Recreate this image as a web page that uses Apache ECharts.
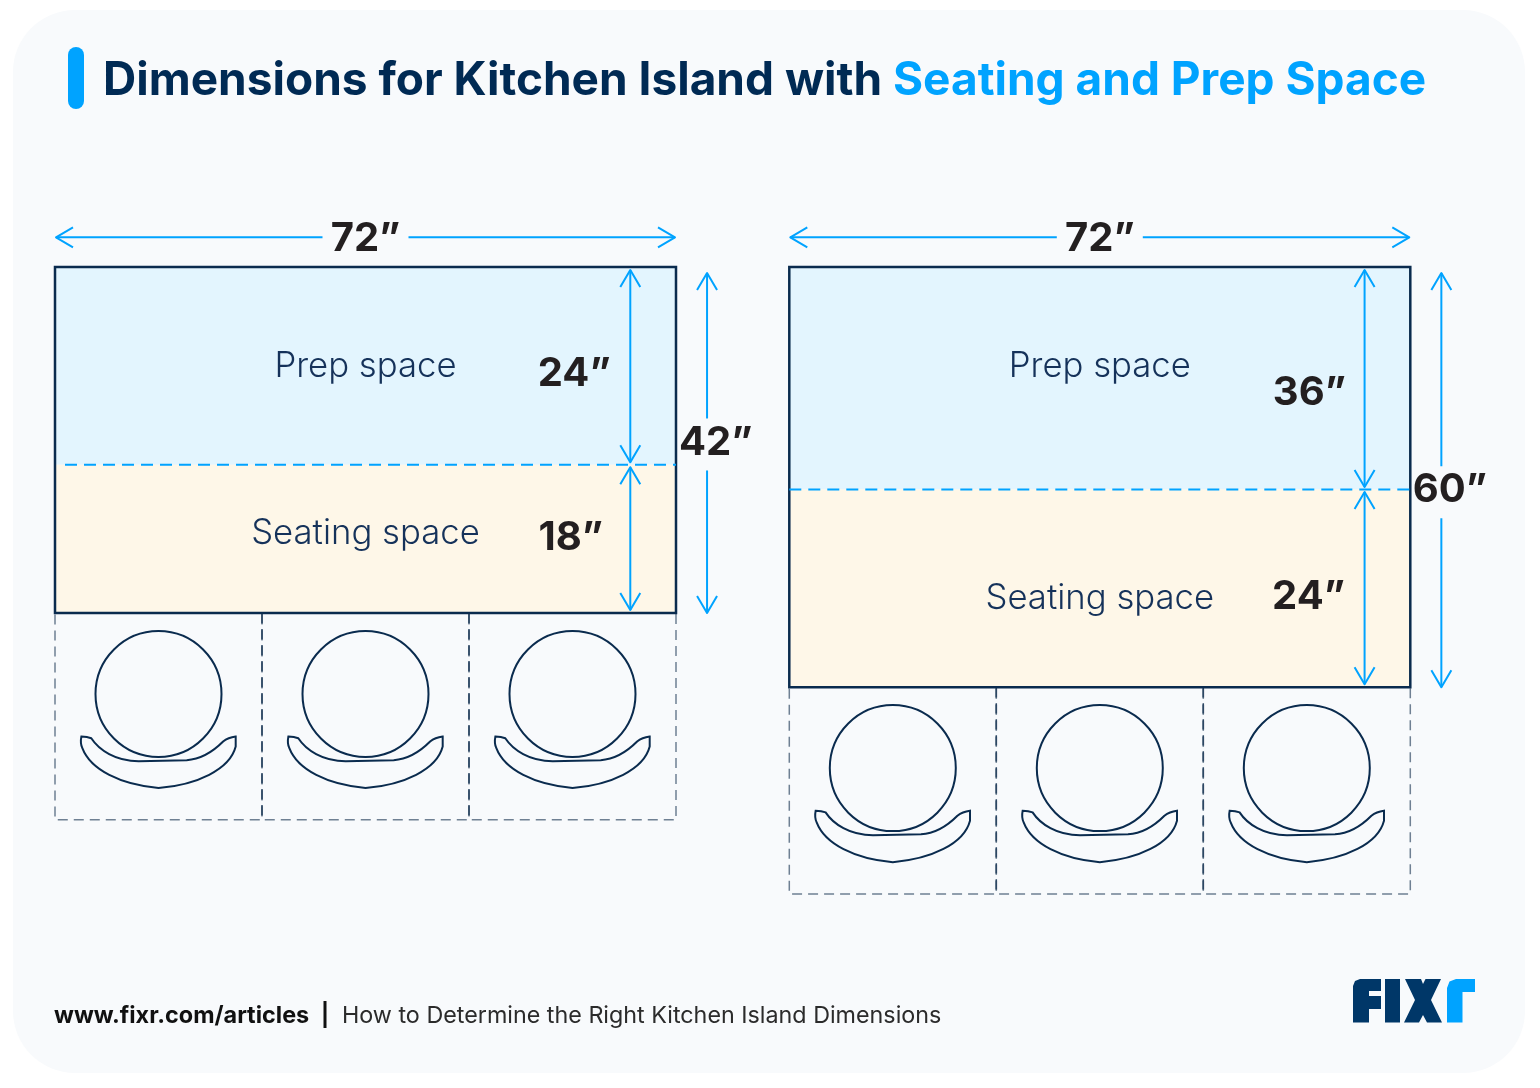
<!DOCTYPE html>
<html>
<head>
<meta charset="utf-8">
<title>Kitchen island dimensions</title>
<style>
  html, body { margin: 0; padding: 0; background: #fff; }
  #main { width: 1540px; height: 1088px; }
</style>
<script src="https://cdn.jsdelivr.net/npm/echarts@6/dist/echarts.min.js"></script>
</head>
<body>
<div id="main"></div>
<script>
// values shown on the picture (inches)
const islandWidths = [72, 72]
const prepLabels = [24, 36]
const seatingLabels = [18, 24]
const totalLabels = [42, 60]
// band depths as they are drawn, the right island is not to scale
const prepDrawn = [24, 27]
const seatingDrawn = [18, 24]
const seatWidth = 24
const seatDepth = 25.1
const seatCounts = [3, 3]

const BLUE = '#00a3ff'
const NAVY = '#0a2b4e'
const INK = '#231f20'
const FONT = 'Inter, "Noto Sans", sans-serif'

const PX_X = 621 / 72
const PX_Y = 346 / 42
const TOP_PAD = 4
const TEXT_Y = {
  prepName: [12.1, 12.1],
  seatName: [32.4, 40.3],
  prepValue: [13, 15.3],
  seatValue: [32.9, 40.1],
  total: [21.3, 27.1]
}
const INNER_X = 66.7
const OUTER_X = 75.6
const VALUE_X = [[60.2, 59.8], [60.3, 60.2]]
const VALUE_SIZE = 40
const NAME_SIZE = 34.7

const chairPath = 'M122 410Q140 410 152 415C175 450 225 484 295 484L440 481C490 478 525 450 550 425Q565 413 588 410L588 440C570 510 470 555 355 565C240 555 150 510 125 445Q118 430 122 410Z'

function arrowEls(a, b, head, tail) {
  // a -> b straight shaft, open heads on the flagged ends
  const len = Math.hypot(b[0] - a[0], b[1] - a[1])
  const ux = (b[0] - a[0]) / len, uy = (b[1] - a[1]) / len
  const vee = (p, dir) => ({
    type: 'polyline',
    shape: { points: [
      [p[0] - dir * 17 * ux - 10 * uy, p[1] - dir * 17 * uy + 10 * ux],
      p,
      [p[0] - dir * 17 * ux + 10 * uy, p[1] - dir * 17 * uy - 10 * ux]
    ] },
    style: { stroke: BLUE, lineWidth: 2, fill: null, lineJoin: 'round' }
  })
  const els = [{
    type: 'line',
    shape: { x1: a[0], y1: a[1], x2: b[0], y2: b[1] },
    style: { stroke: BLUE, lineWidth: 2 }
  }]
  if (head) els.push(vee(b, 1))
  if (tail) els.push(vee(a, -1))
  return els
}

function textEl(x, y, text, size, weight, color) {
  return {
    type: 'text',
    x: x, y: y,
    style: {
      text: text, fontFamily: FONT, fontSize: size, fontWeight: weight, fill: color,
      align: 'center', verticalAlign: 'middle'
    }
  }
}

function renderPanel(i) {
  return function (params, api) {
    const w = islandWidths[i]
    const prep = prepDrawn[i]
    const seat = seatingDrawn[i]
    const bottom = prep + seat
    const c = (x, y) => api.coord([x, y])
    const els = []

    // seat cells, chairs
    for (let k = 0; k < seatCounts[i]; k++) {
      const p0 = c(k * seatWidth, bottom)
      const p1 = c((k + 1) * seatWidth, bottom + seatDepth)
      els.push({
        type: 'rect',
        shape: { x: p0[0], y: p0[1], width: p1[0] - p0[0], height: p1[1] - p0[1] },
        style: { fill: null, stroke: '#4c6278', opacity: 0.8, lineWidth: 1.5, lineDash: [10, 6] }
      })
      if (k > 0) {
        els.push({
          type: 'line',
          shape: { x1: p0[0], y1: p0[1], x2: p0[0], y2: p1[1] },
          style: { stroke: '#2c4763', lineWidth: 1.5, lineDash: [10, 6] }
        })
      }
      const mid = c((k + 0.5) * seatWidth, bottom + 9.83)
      els.push({
        type: 'circle',
        shape: { cx: mid[0], cy: mid[1], r: 63 },
        style: { fill: null, stroke: NAVY, lineWidth: 2 }
      })
      const ch0 = c(k * seatWidth + 3, bottom + 15)
      const ch1 = c(k * seatWidth + 20.95, bottom + 21.25)
      els.push({
        type: 'path',
        shape: { pathData: chairPath, layout: 'cover', x: ch0[0], y: ch0[1], width: ch1[0] - ch0[0], height: ch1[1] - ch0[1] },
        style: { fill: null, stroke: NAVY, lineWidth: 2 }
      })
    }

    // bands
    const tl = c(0, 0), mr = c(w, prep), br = c(w, bottom)
    els.push({
      type: 'rect',
      shape: { x: tl[0], y: tl[1], width: mr[0] - tl[0], height: mr[1] - tl[1] },
      style: { fill: '#e3f5fe' }
    })
    els.push({
      type: 'rect',
      shape: { x: tl[0], y: mr[1], width: mr[0] - tl[0], height: br[1] - mr[1] },
      style: { fill: '#fef7e8' }
    })
    els.push({
      type: 'rect',
      shape: { x: tl[0], y: tl[1], width: br[0] - tl[0], height: br[1] - tl[1] },
      style: { fill: null, stroke: NAVY, lineWidth: 2.5 }
    })
    els.push({
      type: 'line',
      shape: { x1: tl[0] + (i === 0 ? 10 : 0), y1: mr[1], x2: mr[0], y2: mr[1] },
      style: { stroke: BLUE, lineWidth: 2, lineDash: [12, 7] }
    })

    // width arrow, broken around its label
    const wy = -3.6
    const mx = c(w / 2, wy)
    const e0 = c(0, wy), e1 = c(w, wy)
    els.push(...arrowEls([mx[0] - 43, mx[1]], [e0[0] + 1, e0[1]], true, false))
    els.push(...arrowEls([mx[0] + 43, mx[1]], [e1[0] - 1, e1[1]], true, false))
    els.push(textEl(mx[0], mx[1] + 1.5, w + '”', VALUE_SIZE, 700, INK))

    // prep and seating arrows
    const ix = INNER_X
    const a0 = c(ix, 0), a1 = c(ix, prep), a2 = c(ix, bottom)
    els.push(...arrowEls([a0[0], a0[1] + 3], [a1[0], a1[1] - 2.5], true, true))
    els.push(...arrowEls([a1[0], a1[1] + 2.5], [a2[0], a2[1] - 3], true, true))

    // total arrow, broken around its label
    const ox = OUTER_X
    const t0 = c(ox, 0), t1 = c(ox, bottom), tm = c(ox, TEXT_Y.total[i])
    els.push(...arrowEls([t0[0], tm[1] - 24], [t0[0], t0[1] + 6], true, false))
    els.push(...arrowEls([t0[0], tm[1] + 28], [t1[0], t1[1]], true, false))
    const tt = c(76.6, TEXT_Y.total[i])
    els.push(textEl(tt[0], tt[1], totalLabels[i] + '”', VALUE_SIZE, 700, INK))

    // band texts
    const n1 = c(w / 2, TEXT_Y.prepName[i])
    els.push(textEl(n1[0], n1[1], 'Prep space', NAME_SIZE, 300, '#15325a'))
    const n2 = c(w / 2, TEXT_Y.seatName[i])
    els.push(textEl(n2[0], n2[1], 'Seating space', NAME_SIZE, 300, '#15325a'))
    const v1 = c(VALUE_X[i][0], TEXT_Y.prepValue[i])
    els.push(textEl(v1[0], v1[1], prepLabels[i] + '”', VALUE_SIZE, 700, INK))
    const v2 = c(VALUE_X[i][1], TEXT_Y.seatValue[i])
    els.push(textEl(v2[0], v2[1], seatingLabels[i] + '”', VALUE_SIZE, 700, INK))

    return { type: 'group', children: els }
  }
}

const gridLefts = [55, 789.3]
const chart = echarts.init(document.getElementById('main'))

chart.setOption({
  animation: false,
  backgroundColor: '#ffffff',
  title: {
    left: 103,
    top: 52,
    padding: 0,
    text: '{a|Dimensions for Kitchen Island with }{b|Seating and Prep Space}',
    textStyle: {
      rich: {
        a: { fontFamily: FONT, fontSize: 46, fontWeight: 700, color: '#002a54', lineHeight: 58 },
        b: { fontFamily: FONT, fontSize: 46, fontWeight: 700, color: BLUE, lineHeight: 58 }
      }
    }
  },
  graphic: [
    { type: 'rect', z: -1, shape: { x: 13, y: 10, width: 1512, height: 1063, r: 62 }, style: { fill: '#f8fafc' } },
    { type: 'rect', z: 1, shape: { x: 68, y: 47, width: 16, height: 62, r: 8 }, style: { fill: BLUE } },
    { type: 'text', z: 1, x: 54, y: 1015.5, style: { text: 'www.fixr.com/articles', fontFamily: FONT, fontSize: 23.4, fontWeight: 700, fill: '#111111', verticalAlign: 'middle' } },
    { type: 'rect', z: 1, shape: { x: 323.5, y: 1001, width: 3, height: 27 }, style: { fill: '#111111' } },
    { type: 'text', z: 1, x: 342, y: 1016, style: { text: 'How to Determine the Right Kitchen Island Dimensions', fontFamily: FONT, fontSize: 23.3, fontWeight: 400, fill: '#2b2b2b', verticalAlign: 'middle' } },
    // logo
    { type: 'polygon', z: 1, shape: { points: [[1353, 986], [1355, 981], [1360, 979], [1381, 979], [1381, 991], [1369, 991], [1369, 996], [1381, 996], [1381, 1009], [1369, 1009], [1369, 1022.5], [1353, 1022.5]] }, style: { fill: '#003768' } },
    { type: 'rect', z: 1, shape: { x: 1385, y: 979, width: 15, height: 43.5 }, style: { fill: '#003768' } },
    { type: 'polygon', z: 1, shape: { points: [[1405, 979], [1421, 979], [1423, 984], [1425.5, 979], [1441, 979], [1431, 1000], [1442, 1022.5], [1427, 1022.5], [1423, 1015], [1419, 1022.5], [1404, 1022.5], [1415, 1000]] }, style: { fill: '#003768' } },
    { type: 'polygon', z: 1, shape: { points: [[1447, 988], [1449.5, 981.5], [1456, 979], [1475, 979], [1475, 992], [1462.5, 992], [1462.5, 1022.5], [1447, 1022.5]] }, style: { fill: BLUE } }
  ],
  grid: gridLefts.map((left, i) => ({
    left: left,
    width: 84 * PX_X,
    top: 267 - TOP_PAD * PX_Y,
    height: (prepDrawn[i] + seatingDrawn[i] + seatDepth + TOP_PAD) * PX_Y
  })),
  xAxis: gridLefts.map((_, i) => ({ type: 'value', gridIndex: i, min: 0, max: 84, show: false })),
  yAxis: gridLefts.map((_, i) => ({
    type: 'value', gridIndex: i, inverse: true, show: false,
    min: -TOP_PAD, max: prepDrawn[i] + seatingDrawn[i] + seatDepth
  })),
  series: gridLefts.map((_, i) => ({
    type: 'custom',
    coordinateSystem: 'cartesian2d',
    xAxisIndex: i,
    yAxisIndex: i,
    clip: false,
    silent: true,
    data: [[islandWidths[i], prepDrawn[i] + seatingDrawn[i]]],
    renderItem: renderPanel(i)
  }))
})
</script>
</body>
</html>
